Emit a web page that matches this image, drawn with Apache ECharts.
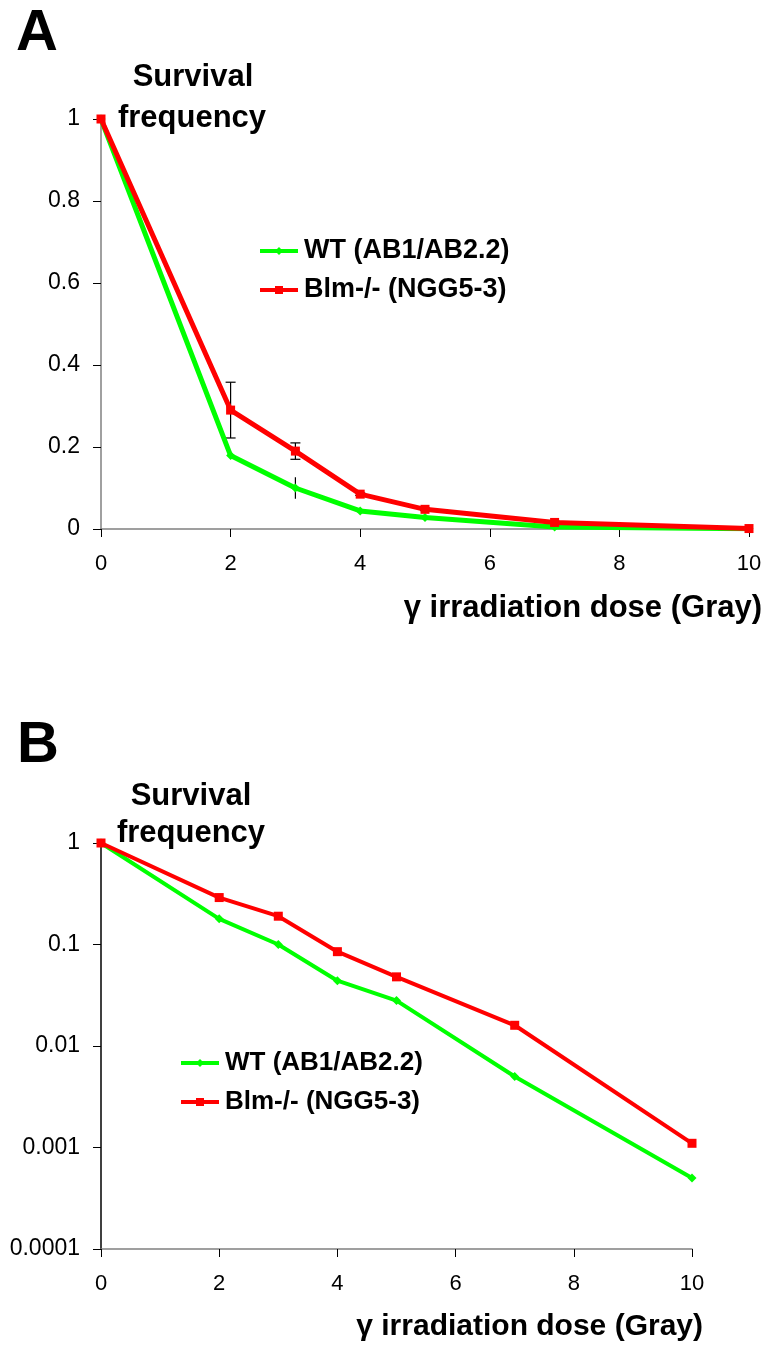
<!DOCTYPE html>
<html>
<head>
<meta charset="utf-8">
<script src="https://cdn.jsdelivr.net/npm/echarts@6/dist/echarts.min.js"></script>
<style>
  html, body { margin: 0; padding: 0; background: #fff; }
  #main { width: 768px; height: 1349px; }
</style>
</head>
<body>
<div id="main"></div>
<script>
// dose in Gray
var doses = [0, 2, 3, 4, 5, 7, 10];
// survival frequency
var wtSurvival = [1, 0.179, 0.1, 0.044, 0.028, 0.005, 0.0005];
var blmSurvival = [1, 0.29, 0.19, 0.085, 0.048, 0.016, 0.0011];
// error bars (panel A only)
var wtError = [0, 0, 0.026, 0, 0, 0, 0];
var blmError = [0, 0.068, 0.02, 0.003, 0.003, 0.003, 0];

var xTicks = [0, 2, 4, 6, 8, 10];
var linTicks = ['0', '0.2', '0.4', '0.6', '0.8', '1'];
var logTicks = ['0.0001', '0.001', '0.01', '0.1', '1'];

var wtName = 'WT (AB1/AB2.2)';
var blmName = 'Blm-/- (NGG5-3)';
var GREEN = '#00ff00', RED = '#ff0000';
var FONT = '"Liberation Sans", Arial, sans-serif';

function pairs(ys) {
    return doses.map(function (d, i) { return [d, ys[i]]; });
}
function withErr(ys, es) {
    return doses.map(function (d, i) { return [d, ys[i], es[i]]; });
}

function errorBars(halfCap) {
    return function (params, api) {
        var x = api.value(0), y = api.value(1), e = api.value(2);
        if (!e) return;
        var hi = api.coord([x, y + e]);
        var lo = api.coord([x, y - e]);
        var st = { stroke: '#000', lineWidth: 1.2 };
        var kids = [{ type: 'line', shape: { x1: hi[0], y1: hi[1], x2: lo[0], y2: lo[1] }, style: st }];
        if (halfCap) {
            kids.push({ type: 'line', shape: { x1: hi[0] - halfCap, y1: hi[1], x2: hi[0] + halfCap, y2: hi[1] }, style: st });
            kids.push({ type: 'line', shape: { x1: lo[0] - halfCap, y1: lo[1], x2: lo[0] + halfCap, y2: lo[1] }, style: st });
        }
        return { type: 'group', children: kids };
    };
}

function xAxis(gridIndex) {
    return {
        type: 'value', gridIndex: gridIndex, min: 0, max: 10, interval: 2,
        axisLine: { onZero: false, lineStyle: { color: '#808080', width: 1.5 } },
        axisTick: { length: 8, lineStyle: { color: '#000', width: 1 } },
        axisLabel: { margin: 24, fontSize: 22, color: '#000', fontFamily: FONT },
        splitLine: { show: false }
    };
}

function lineSeries(name, ys, gi, color, symbol, size, width) {
    return {
        name: name, type: 'line', xAxisIndex: gi, yAxisIndex: gi,
        data: pairs(ys), color: color, symbol: symbol, symbolSize: size,
        lineStyle: { width: width, color: color }, itemStyle: { color: color },
        z: 3, animation: false
    };
}

function legend(left, top, size) {
    return {
        left: left, top: top, padding: 0,
        orient: 'vertical', itemWidth: 38, itemHeight: 10, itemGap: 9,
        lineStyle: { width: 4 },
        textStyle: { fontSize: size, fontWeight: 'bold', color: '#000', fontFamily: FONT,
                     lineHeight: 30, padding: [0, 0, 0, 1] },
        data: [wtName, blmName], selectedMode: false
    };
}

function txt(text, x, y, size, align) {
    return {
        type: 'text', x: x, y: y,
        style: { text: text, fontSize: size, fontWeight: 'bold', fontFamily: FONT, fill: '#000',
                 textAlign: align || 'center', textVerticalAlign: 'middle' }
    };
}

var chart = echarts.init(document.getElementById('main'));
chart.setOption({
    animation: false,
    grid: [
        { left: 101, top: 119, width: 648, height: 410 },
        { left: 101, top: 843, width: 591, height: 406 }
    ],
    xAxis: [xAxis(0), xAxis(1)],
    yAxis: [{
        type: 'value', gridIndex: 0, min: 0, max: 1, interval: 0.2,
        axisLine: { show: true, lineStyle: { color: '#808080', width: 1.5 } },
        axisTick: { show: true, length: 8, lineStyle: { color: '#000' } },
        axisLabel: { margin: 21, fontSize: 23, color: '#000', fontFamily: FONT,
            formatter: function (v) { return linTicks[Math.round(v * 5)]; } },
        splitLine: { show: false }
    }, {
        type: 'log', gridIndex: 1, logBase: 10, min: 0.0001, max: 1,
        axisLine: { show: true, lineStyle: { color: '#000', width: 1.5 } },
        axisTick: { show: true, length: 8, lineStyle: { color: '#000' } },
        axisLabel: { margin: 21, fontSize: 23, color: '#000', fontFamily: FONT,
            formatter: function (v) { return logTicks[Math.round(Math.log10(v)) + 4]; } },
        splitLine: { show: false }, minorTick: { show: false }
    }],
    legend: [legend(258, 236, 27), legend(179, 1048, 26)],
    series: [
        { type: 'custom', xAxisIndex: 0, yAxisIndex: 0, data: withErr(blmSurvival, blmError),
          renderItem: errorBars(5), z: 2, silent: true },
        { type: 'custom', xAxisIndex: 0, yAxisIndex: 0, data: withErr(wtSurvival, wtError),
          renderItem: errorBars(0), z: 2, silent: true },
        lineSeries(wtName, wtSurvival, 0, GREEN, 'diamond', 9, 5),
        lineSeries(blmName, blmSurvival, 0, RED, 'rect', 9, 5),
        lineSeries(wtName, wtSurvival, 1, GREEN, 'diamond', 9, 4),
        lineSeries(blmName, blmSurvival, 1, RED, 'rect', 9, 4)
    ],
    graphic: [
        txt('A', 37, 34, 58),
        txt('B', 38, 746, 58),
        txt('Survival', 193, 77, 31),
        txt('frequency', 192, 118, 31),
        txt('Survival', 191, 796, 31),
        txt('frequency', 191, 833, 31),
        txt('γ irradiation dose (Gray)', 762, 608, 31, 'right'),
        txt('γ irradiation dose (Gray)', 703, 1327, 30, 'right')
    ]
});
</script>
</body>
</html>
